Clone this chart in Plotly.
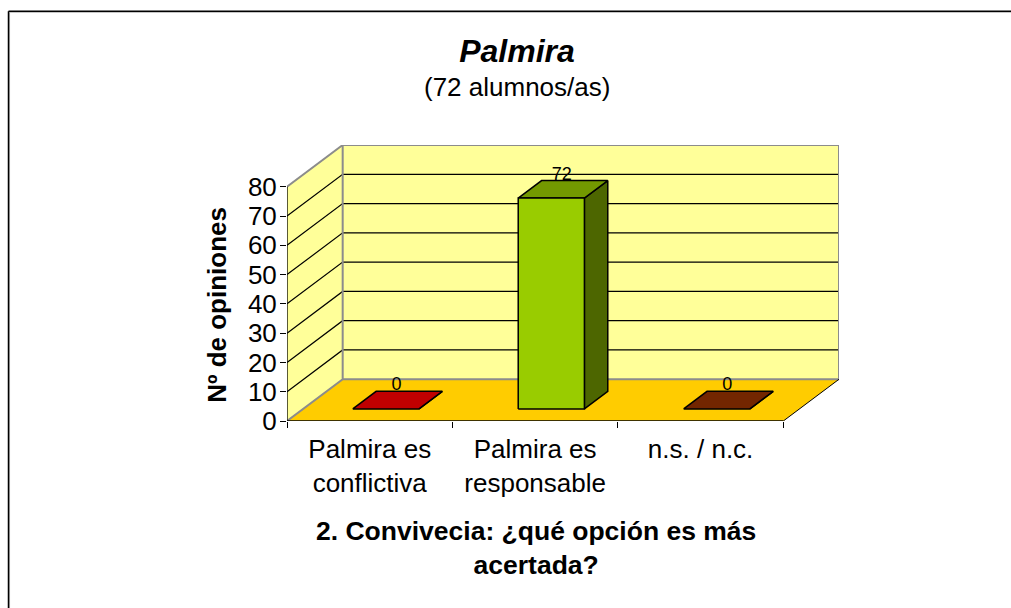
import plotly.graph_objects as go

categories = ["Palmira es<br>conflictiva", "Palmira es<br>responsable", "n.s. / n.c."]
opinions = [0, 72, 0]
front_colors = ["#FF0000", "#99CC00", "#993300"]
top_colors = ["#C00000", "#739900", "#732600"]
side_colors = ["#800000", "#4D6600", "#4D1A00"]
y_ticks = [0, 10, 20, 30, 40, 50, 60, 70, 80]

W, H = 1011, 608
LEFT, RIGHT, TOP, FLOOR = 287, 838.7, 145.3, 421

# oblique depth of the box, in axis units
DEPTH_X = 55.6 / 165.2
DEPTH_Y = 41.7 / 2.925
N = len(categories)
Y_MAX = y_ticks[-1]

WALL = "#FFFF99"
BASE = "#FFCC00"
GREY = "#8C8C8C"
FONT = "Liberation Sans, Arial, sans-serif"


def px(x):
    return (x - LEFT) / (RIGHT - LEFT)


def py(y):
    return (FLOOR - y) / (FLOOR - TOP)


def poly(xs, ys, fill=None, line="black", width=1.0):
    return go.Scatter(x=xs, y=ys, mode="lines", fill="toself" if fill else "none",
                      fillcolor=fill, line=dict(color=line, width=width),
                      hoverinfo="skip", showlegend=False, cliponaxis=False)


def frame_line(x0, y0, x1, y1, color, width):
    return dict(type="line", xref="paper", yref="paper", x0=px(x0), x1=px(x1), y0=py(y0), y1=py(y1),
                line=dict(color=color, width=width))


def label(text, x, y, size, angle=0):
    return dict(text=text, xref="paper", yref="paper", x=px(x), y=py(y), xanchor="center", yanchor="middle",
                showarrow=False, textangle=angle, font=dict(size=size))


fig = go.Figure()

# walls and floor
fig.add_trace(poly([0, DEPTH_X, DEPTH_X, 0, 0], [0, DEPTH_Y, Y_MAX + DEPTH_Y, Y_MAX, 0], WALL, WALL, 0))
fig.add_trace(poly([DEPTH_X, N + DEPTH_X, N + DEPTH_X, DEPTH_X, DEPTH_X],
                   [DEPTH_Y, DEPTH_Y, Y_MAX + DEPTH_Y, Y_MAX + DEPTH_Y, DEPTH_Y], WALL, WALL, 0))
fig.add_trace(poly([0, N, N + DEPTH_X, DEPTH_X, 0], [0, 0, DEPTH_Y, DEPTH_Y, 0], BASE, BASE, 0))

# gridlines
grid_x, grid_y = [], []
for v in y_ticks[1:-1]:
    grid_x += [0, DEPTH_X, N + DEPTH_X, None]
    grid_y += [v, v + DEPTH_Y, v + DEPTH_Y, None]
fig.add_trace(poly(grid_x, grid_y, None, "black", 1.2))

# wall outline
fig.add_trace(poly([0, DEPTH_X, DEPTH_X, N + DEPTH_X, N + DEPTH_X, DEPTH_X, DEPTH_X, 0],
                   [Y_MAX, Y_MAX + DEPTH_Y, DEPTH_Y, DEPTH_Y, Y_MAX + DEPTH_Y, Y_MAX + DEPTH_Y, DEPTH_Y, 0],
                   None, GREY, 2))

# floor edges and value axis line
fig.add_trace(poly([N, N + DEPTH_X], [0, DEPTH_Y]))
fig.add_trace(poly([0, 0, N], [Y_MAX, 0, 0], None, "black", 1.3))

# bars
bar_width = 0.4
near, far = 0.29, 0.71
for i, value in enumerate(opinions):
    x0 = i + 0.3 + near * DEPTH_X
    x1 = x0 + bar_width
    y0 = near * DEPTH_Y
    dx = (far - near) * DEPTH_X
    dy = (far - near) * DEPTH_Y
    fig.add_trace(poly([x1, x1 + dx, x1 + dx, x1, x1], [y0, y0 + dy, y0 + dy + value, y0 + value, y0],
                       side_colors[i], "black", 1.5))
    fig.add_trace(poly([x0, x1, x1 + dx, x0 + dx, x0],
                       [y0 + value, y0 + value, y0 + dy + value, y0 + dy + value, y0 + value],
                       top_colors[i], "black", 1.5))
    if value > 0:
        fig.add_trace(poly([x0, x1, x1, x0, x0], [y0, y0, y0 + value, y0 + value, y0],
                           front_colors[i], "black", 1.5))
    fig.add_trace(go.Scatter(x=[(x0 + x1 + 0.9 * dx) / 2], y=[y0 + 0.8 * dy + value], mode="text",
                             text=[str(value)], textposition="top center",
                             textfont=dict(size=18, color="black", family=FONT),
                             hoverinfo="skip", showlegend=False, cliponaxis=False))

fig.update_layout(
    width=W, height=H,
    margin=dict(l=LEFT, r=W - RIGHT, t=TOP, b=H - FLOOR, autoexpand=False),
    paper_bgcolor="white", plot_bgcolor="rgba(0,0,0,0)",
    font=dict(family=FONT, color="black"),
    title=dict(text="<b><i>Palmira</i></b>", font=dict(size=32, family=FONT, color="black"),
               x=517 / W, xanchor="center", y=1 - 51 / H, yanchor="middle"),
    xaxis=dict(range=[0, N + DEPTH_X], showgrid=False, zeroline=False, showline=False,
               tickmode="array", tickvals=[i + 0.5 for i in range(N)], ticktext=categories,
               ticks="", ticklabelstandoff=10, tickfont=dict(size=26, color="black", family=FONT),
               minor=dict(tickmode="array", tickvals=list(range(N + 1)), ticks="outside", ticklen=6,
                          tickcolor="black", tickwidth=1)),
    yaxis=dict(range=[0, Y_MAX + DEPTH_Y], showgrid=False, zeroline=False, showline=False,
               tickmode="array", tickvals=y_ticks, ticks="outside", ticklen=6, tickcolor="black",
               tickwidth=1, ticklabelstandoff=-2, tickfont=dict(size=26, color="black", family=FONT)),
    annotations=[
        label("(72 alumnos/as)", 517, 87, 26),
        label("<b>Nº de opiniones</b>", 217, 305, 26, -90),
        label("<b>2. Convivecia: ¿qué opción es más<br>acertada?</b>", 536, 548, 26.5),
    ],
    shapes=[
        frame_line(9.7, 12.7, 1011, 12.7, "#B4B4B4", 1),
        frame_line(9.7, 12.7, 9.7, 608, "#B4B4B4", 1),
        frame_line(8.65, 11.7, 1011, 11.7, "black", 1.5),
        frame_line(8.65, 11.7, 8.65, 608, "black", 1.5),
    ],
)

# drop the page margin so the figure fills the window
fig.write_html("out.html", config={"displayModeBar": False},
               post_script="document.body.style.margin='0';document.documentElement.style.overflow='hidden';")
